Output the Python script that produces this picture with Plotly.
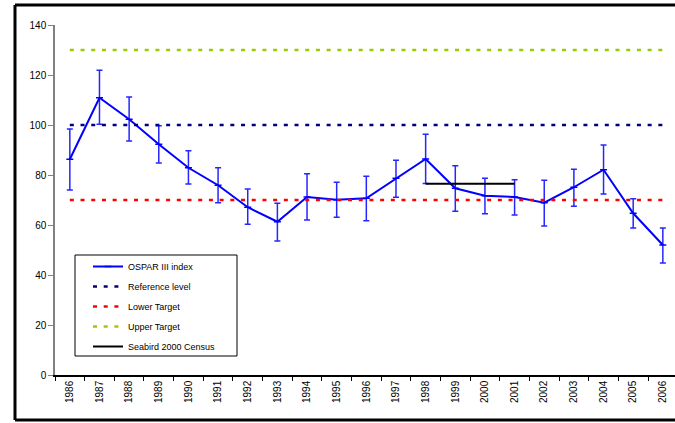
import plotly.graph_objects as go

# Survey years and index values with upper/lower confidence limits
years = [str(y) for y in range(1986, 2007)]
index_values = [86.3, 110.9, 102.3, 92.3, 82.9, 75.9, 67.1, 61.3, 71.2, 70.1,
                70.7, 78.7, 86.4, 74.7, 71.7, 71.2, 68.9, 75.1, 82.1, 64.7, 52.0]
upper_limits = [98.4, 121.9, 111.2, 99.7, 89.7, 82.9, 74.4, 68.7, 80.5, 77.1,
                79.5, 85.9, 96.3, 83.7, 78.7, 78.1, 77.9, 82.3, 92.0, 70.5, 58.8]
lower_limits = [74.0, 100.3, 93.6, 84.8, 76.4, 68.9, 60.3, 53.6, 62.0, 63.1,
                61.7, 71.1, 76.6, 65.5, 64.5, 64.0, 59.6, 67.5, 72.4, 58.8, 44.8]

reference_level = 100
lower_target = 70
upper_target = 130

census_years = ["1998", "2001"]
census_value = 76.5

err_plus = [u - v for u, v in zip(upper_limits, index_values)]
err_minus = [v - l for v, l in zip(index_values, lower_limits)]

FONT = "Arial, Liberation Sans, sans-serif"
DASH = "4px,6.7px"

fig = go.Figure()

fig.add_trace(go.Scatter(
    x=years, y=index_values, name="OSPAR III index", legendgroup="g1",
    mode="lines+markers",
    line=dict(color="#0000FF", width=2),
    marker=dict(symbol="line-ew", size=5, line=dict(color="#0000FF", width=1.5)),
    error_y=dict(type="data", symmetric=False, array=err_plus, arrayminus=err_minus,
                 color="#2626FF", thickness=1.5, width=3),
))

for i, (name, level, color) in enumerate([("Reference level", reference_level, "#000080"),
                                          ("Lower Target", lower_target, "#FF0000"),
                                          ("Upper Target", upper_target, "#99CC00")]):
    fig.add_trace(go.Scatter(
        x=[years[0], years[-1]], y=[level, level], name=name, mode="lines",
        legendgroup=f"g{i + 2}",
        line=dict(color=color, width=2.5, dash=DASH),
    ))

fig.add_trace(go.Scatter(
    x=census_years, y=[census_value, census_value], name="Seabird 2000 Census",
    legendgroup="g5", mode="lines", line=dict(color="#000000", width=2),
))

# pixel -> paper helpers for the fixed 675x423 canvas
L, R, T, B = 55, 675, 25, 375
def px(p):
    return (p - L) / (R - L)
def py(q):
    return (B - q) / (B - T)

shapes = [
    # outer frame
    dict(type="line", xref="paper", yref="paper", x0=px(15), x1=px(15), y0=py(5), y1=py(420),
         line=dict(color="black", width=3)),
    dict(type="line", xref="paper", yref="paper", x0=px(15), x1=px(700), y0=py(5), y1=py(5),
         line=dict(color="black", width=3)),
    dict(type="line", xref="paper", yref="paper", x0=px(15), x1=px(700), y0=py(420), y1=py(420),
         line=dict(color="black", width=3)),
    # legend box
    dict(type="rect", xref="paper", yref="paper", x0=px(75), x1=px(237), y0=py(356), y1=py(255),
         line=dict(color="black", width=1), fillcolor="white", layer="below"),
]

fig.update_layout(
    width=675, height=423,
    margin=dict(l=L, r=675 - R, t=T, b=423 - B),
    paper_bgcolor="white", plot_bgcolor="white",
    font=dict(family=FONT, size=10, color="#000000"),
    shapes=shapes,
    showlegend=True,
    legend=dict(x=px(88), y=py(252), xanchor="left", yanchor="top",
                bgcolor="rgba(0,0,0,0)", borderwidth=0,
                font=dict(family=FONT, size=9, color="#000000"),
                itemwidth=30, tracegroupgap=1, traceorder="grouped"),
    xaxis=dict(type="category", categoryorder="array", categoryarray=years,
               range=[-0.5, 20.41], tickson="boundaries",
               showline=True, linecolor="black", linewidth=1.5,
               ticks="outside", ticklen=4, tickcolor="black", tickwidth=1,
               tickangle=-90, tickfont=dict(family=FONT, size=10, color="#000000"),
               showgrid=False, zeroline=False),
    yaxis=dict(range=[0, 140], dtick=20, tick0=0,
               showline=True, linecolor="#808080", linewidth=1.5,
               ticks="outside", ticklen=5, tickcolor="#808080", tickwidth=1,
               tickfont=dict(family=FONT, size=10, color="#000000"),
               showgrid=False, zeroline=False),
)

fig.write_html("out.html")
